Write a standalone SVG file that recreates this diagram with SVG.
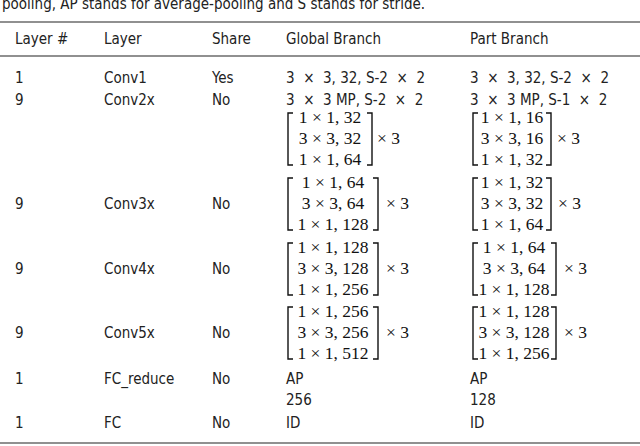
<svg xmlns="http://www.w3.org/2000/svg" width="640" height="446" viewBox="0 0 640 446">
<style>
text{font-family:"Liberation Sans Narrow","DejaVu Sans Condensed","Liberation Sans",sans-serif;font-size:15px;fill:#222}
text.m{font-family:"Liberation Serif",serif;font-size:17.5px;fill:#111}
.b{fill:none;stroke:#111;stroke-width:1.4}
.r{stroke:#222;stroke-width:1.2}
</style>
<rect width="640" height="446" fill="#fff"/>
<text x="2" y="9">pooling, AP stands for average-pooling and S stands for stride.</text>
<line class="r" x1="0" y1="22" x2="640" y2="22"/>
<line class="r" x1="0" y1="56" x2="640" y2="56"/>
<line class="r" x1="0" y1="443" x2="640" y2="443" stroke-width="2"/>
<g id="header">
<text x="15" y="44">Layer #</text><text x="104" y="44">Layer</text><text x="212" y="44">Share</text><text x="286" y="44">Global Branch</text><text x="470" y="44">Part Branch</text>
</g>
<g id="rows">
<text x="15" y="83">1</text><text x="104" y="83">Conv1</text><text x="212" y="83">Yes</text>
<text x="286" y="83" xml:space="preserve">3  ×  3, 32, S-2  ×  2</text><text x="470" y="83" xml:space="preserve">3  ×  3, 32, S-2  ×  2</text>
<text x="15" y="105">9</text><text x="104" y="105">Conv2x</text><text x="212" y="105">No</text>
<text x="286" y="105" xml:space="preserve">3  ×  3 MP, S-2  ×  2</text><text x="470" y="105" xml:space="preserve">3  ×  3 MP, S-1  ×  2</text>
<text x="15" y="209">9</text><text x="104" y="209">Conv3x</text><text x="212" y="209">No</text>
<text x="15" y="274">9</text><text x="104" y="274">Conv4x</text><text x="212" y="274">No</text>
<text x="15" y="338">9</text><text x="104" y="338">Conv5x</text><text x="212" y="338">No</text>
<text x="15" y="384">1</text><text x="104" y="384">FC_reduce</text><text x="212" y="384">No</text>
<text x="286" y="384">AP</text><text x="470" y="384">AP</text>
<text x="286" y="405">256</text><text x="470" y="405">128</text>
<text x="15" y="428">1</text><text x="104" y="428">FC</text><text x="212" y="428">No</text>
<text x="286" y="428">ID</text><text x="470" y="428">ID</text>
</g>
<g id="matrices">
<g id="m1g"><path class="b" d="M293,113 H288 V165 H293 M367,113 H372 V165 H367"/>
<text class="m" x="330" y="123" text-anchor="middle">1 × 1, 32</text><text class="m" x="330" y="144" text-anchor="middle">3 × 3, 32</text><text class="m" x="330" y="165" text-anchor="middle">1 × 1, 64</text><text class="m" x="377" y="144">× 3</text></g>
<g id="m1p"><path class="b" d="M478,113 H473 V165 H478 M546,113 H551 V165 H546"/>
<text class="m" x="512" y="123" text-anchor="middle">1 × 1, 16</text><text class="m" x="512" y="144" text-anchor="middle">3 × 3, 16</text><text class="m" x="512" y="165" text-anchor="middle">1 × 1, 32</text><text class="m" x="557" y="144">× 3</text></g>
<g id="m2g"><path class="b" d="M293,178 H288 V230 H293 M373,178 H378 V230 H373"/>
<text class="m" x="333" y="188" text-anchor="middle">1 × 1, 64</text><text class="m" x="333" y="209" text-anchor="middle">3 × 3, 64</text><text class="m" x="333" y="230" text-anchor="middle">1 × 1, 128</text><text class="m" x="386" y="209">× 3</text></g>
<g id="m2p"><path class="b" d="M478,178 H473 V230 H478 M546,178 H551 V230 H546"/>
<text class="m" x="512" y="188" text-anchor="middle">1 × 1, 32</text><text class="m" x="512" y="209" text-anchor="middle">3 × 3, 32</text><text class="m" x="512" y="230" text-anchor="middle">1 × 1, 64</text><text class="m" x="558" y="209">× 3</text></g>
<g id="m3g"><path class="b" d="M293,243 H288 V295 H293 M373,243 H378 V295 H373"/>
<text class="m" x="333" y="253" text-anchor="middle">1 × 1, 128</text><text class="m" x="333" y="274" text-anchor="middle">3 × 3, 128</text><text class="m" x="333" y="295" text-anchor="middle">1 × 1, 256</text><text class="m" x="386" y="274">× 3</text></g>
<g id="m3p"><path class="b" d="M478,243 H473 V295 H478 M551,243 H556 V295 H551"/>
<text class="m" x="514" y="253" text-anchor="middle">1 × 1, 64</text><text class="m" x="514" y="274" text-anchor="middle">3 × 3, 64</text><text class="m" x="514" y="295" text-anchor="middle">1 × 1, 128</text><text class="m" x="564" y="274">× 3</text></g>
<g id="m4g"><path class="b" d="M293,307 H288 V359 H293 M373,307 H378 V359 H373"/>
<text class="m" x="333" y="317" text-anchor="middle">1 × 1, 256</text><text class="m" x="333" y="338" text-anchor="middle">3 × 3, 256</text><text class="m" x="333" y="359" text-anchor="middle">1 × 1, 512</text><text class="m" x="386" y="338">× 3</text></g>
<g id="m4p"><path class="b" d="M478,307 H473 V359 H478 M551,307 H556 V359 H551"/>
<text class="m" x="514" y="317" text-anchor="middle">1 × 1, 128</text><text class="m" x="514" y="338" text-anchor="middle">3 × 3, 128</text><text class="m" x="514" y="359" text-anchor="middle">1 × 1, 256</text><text class="m" x="564" y="338">× 3</text></g>
</g>
</svg>
